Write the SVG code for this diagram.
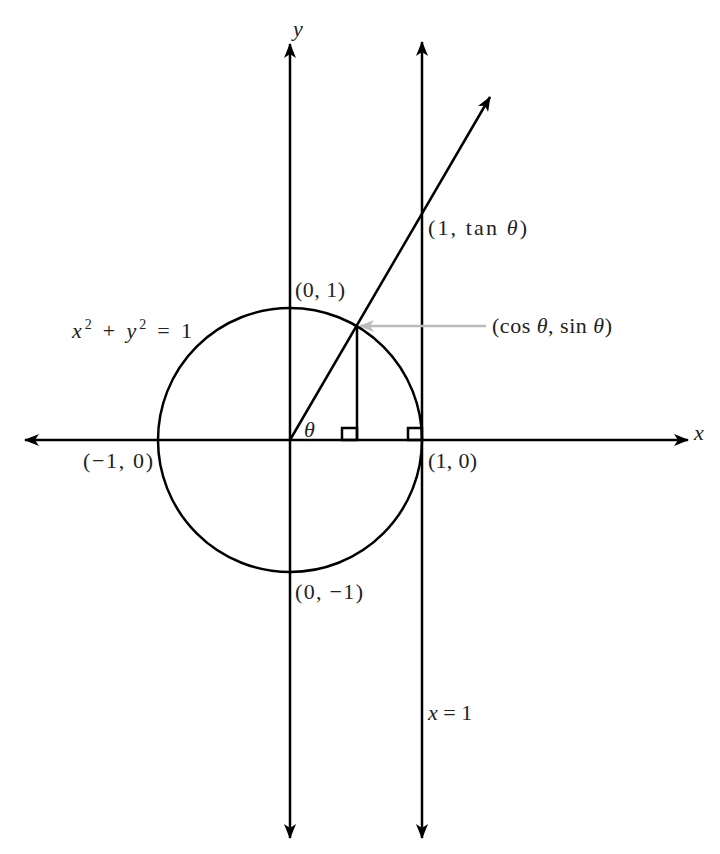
<svg xmlns="http://www.w3.org/2000/svg" width="720" height="854" viewBox="0 0 720 854">
<style>
.ln{stroke:#000;stroke-width:2.5;fill:none}
.t{font-family:"Liberation Serif","DejaVu Serif",serif;font-size:22px;fill:#222}
.i{font-style:italic}
</style>
<defs>
<marker id="ah" markerWidth="16" markerHeight="12" refX="14" refY="6" orient="auto" markerUnits="userSpaceOnUse">
<path d="M0,0 L15,6 L0,12 L4,6 Z" fill="#000"/>
</marker>
<marker id="ahg" markerWidth="16" markerHeight="12" refX="14" refY="6" orient="auto" markerUnits="userSpaceOnUse">
<path d="M0,0 L15,6 L0,12 L4,6 Z" fill="#bbb"/>
</marker>
</defs>
<rect width="720" height="854" fill="#fff"/>
<g id="connectors">
<line class="ln" x1="290" y1="440" x2="688" y2="440" marker-end="url(#ah)"/>
<line class="ln" x1="290" y1="440" x2="25" y2="440" marker-end="url(#ah)"/>
<line class="ln" x1="290" y1="440" x2="290" y2="44" marker-end="url(#ah)"/>
<line class="ln" x1="290" y1="440" x2="290" y2="838" marker-end="url(#ah)"/>
<line class="ln" x1="422" y1="440" x2="422" y2="42" marker-end="url(#ah)"/>
<line class="ln" x1="422" y1="440" x2="422" y2="838" marker-end="url(#ah)"/>
<line class="ln" x1="290" y1="440" x2="490" y2="97" marker-end="url(#ah)"/>
<line class="ln" x1="357" y1="326" x2="357" y2="440"/>
<line stroke="#bbb" stroke-width="2.5" x1="486" y1="326" x2="360" y2="326" marker-end="url(#ahg)"/>
</g>
<g id="circle">
<circle class="ln" cx="290" cy="440" r="132"/>
</g>
<g id="right-angles">
<rect class="ln" x="342" y="428" width="15" height="12" stroke-width="1.8"/>
<rect class="ln" x="408" y="428" width="14" height="12" stroke-width="1.8"/>
</g>
<g id="labels">
<text class="t i" x="293" y="36">y</text>
<text class="t i" x="694" y="440">x</text>
<text class="t" x="428" y="235" textLength="99" lengthAdjust="spacing">(1, tan <tspan class="i">θ</tspan>)</text>
<text class="t" x="295" y="297" textLength="50" lengthAdjust="spacing">(0, 1)</text>
<text class="t" x="72" y="338" textLength="120" lengthAdjust="spacing"><tspan class="i">x</tspan><tspan font-size="14" dy="-9">2</tspan><tspan dy="9"> + </tspan><tspan class="i">y</tspan><tspan font-size="14" dy="-9">2</tspan><tspan dy="9"> = 1</tspan></text>
<text class="t" x="492" y="333" textLength="120" lengthAdjust="spacing">(cos <tspan class="i">θ</tspan>, sin <tspan class="i">θ</tspan>)</text>
<text class="t i" x="304" y="437">θ</text>
<text class="t" x="83" y="468" textLength="70" lengthAdjust="spacing">(−1, 0)</text>
<text class="t" x="428" y="468" textLength="49" lengthAdjust="spacing">(1, 0)</text>
<text class="t" x="295" y="599" textLength="68" lengthAdjust="spacing">(0, −1)</text>
<text class="t" x="428" y="720"><tspan class="i">x</tspan> = 1</text>
</g>
</svg>
